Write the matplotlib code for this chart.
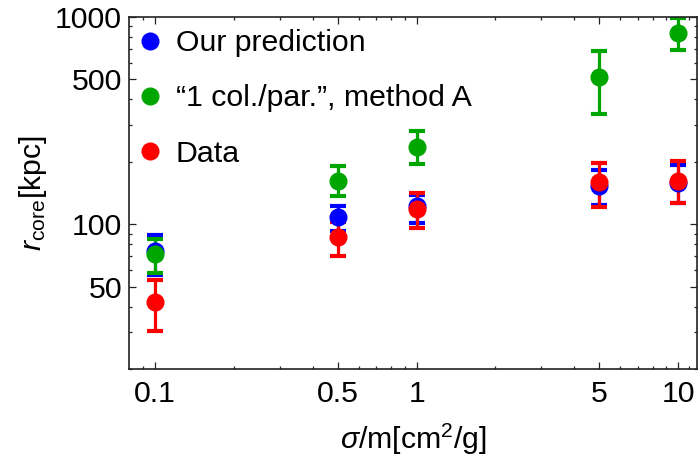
import matplotlib
matplotlib.use("Agg")
import matplotlib.pyplot as plt
from matplotlib.ticker import FixedLocator, NullFormatter

plt.rcParams["font.family"] = ["Liberation Sans", "DejaVu Sans"]
plt.rcParams["mathtext.fontset"] = "custom"
plt.rcParams["mathtext.rm"] = "Liberation Sans"
plt.rcParams["mathtext.it"] = "Liberation Sans:italic"

# %% data
sigma_m = [0.1, 0.5, 1, 5, 10]

ours = [74, 108, 122, 153, 158]
ours_lo = [57, 93, 101, 124, 126]
ours_hi = [88.5, 122, 138, 182, 193]

col_a = [72, 161, 237, 513, 840]
col_a_lo = [58, 137, 195, 340, 692]
col_a_hi = [85, 190, 282, 685, 990]

data = [42, 86.5, 118, 160, 161]
data_lo = [30.4, 70, 95.6, 121, 126]
data_hi = [53.8, 103, 141, 197, 201]

x_ticks = [0.1, 0.5, 1, 5, 10]
x_ticklabels = ["0.1", "0.5", "1", "5", "10"]
y_ticks = [50, 100, 500, 1000]
y_ticklabels = ["50", "100", "500", "1000"]

# %%
fs = 21.8
fig = plt.figure(figsize=(6.98, 4.66), dpi=100)
ax = fig.add_axes([0.1848, 0.2082, 0.8138, 0.7553])

series = [
    (ours, ours_lo, ours_hi, "#0000ff", "Our prediction"),
    (col_a, col_a_lo, col_a_hi, "#00a600", "\u201c1 col./par.\u201d, method A"),
    (data, data_lo, data_hi, "#ff0000", "Data"),
]

for y, lo, hi, c, lab in series:
    err = [[v - l for v, l in zip(y, lo)], [h - v for v, h in zip(y, hi)]]
    ax.errorbar(
        sigma_m, y, yerr=err, fmt="o", color=c, ms=12, elinewidth=2.3,
        capsize=5.5, capthick=3, label=lab,
    )

ax.set_xscale("log")
ax.set_yscale("log")
ax.set_xlim(0.0795, 11.8)
ax.set_ylim(20, 1000)

ax.xaxis.set_major_locator(FixedLocator(x_ticks))
ax.set_xticklabels(x_ticklabels)
ax.yaxis.set_major_locator(FixedLocator(y_ticks))
ax.set_yticklabels(y_ticklabels)

x_minor = [0.09, 0.2, 0.3, 0.4, 0.6, 0.7, 0.8, 0.9, 2, 3, 4, 6, 7, 8, 9, 11]
y_minor = [20, 30, 40, 60, 70, 80, 90, 200, 300, 400, 600, 700, 800, 900]
ax.xaxis.set_minor_locator(FixedLocator(x_minor))
ax.yaxis.set_minor_locator(FixedLocator(y_minor))
ax.xaxis.set_minor_formatter(NullFormatter())
ax.yaxis.set_minor_formatter(NullFormatter())

ax.tick_params(which="both", direction="in", top=True, right=True, width=0.9, color="#222222")
ax.tick_params(which="major", length=5, labelsize=fs)
ax.tick_params(axis="x", which="major", pad=8)
ax.tick_params(axis="y", which="major", pad=5)
ax.tick_params(which="minor", length=2.5)
for s in ax.spines.values():
    s.set_linewidth(1.2)
    s.set_color("#222222")

ax.set_xlabel(r"$\sigma$/m[cm$^2$/g]", fontsize=fs, labelpad=10)
ax.set_ylabel(r"$r_{\rm core}$[kpc]", fontsize=fs, labelpad=4)

handles, labels = ax.get_legend_handles_labels()
handles = [h[0] for h in handles]
ax.legend(
    handles, labels, loc="upper left", frameon=False, fontsize=fs,
    handlelength=0.6, handletextpad=0.55, labelspacing=0.9,
    borderaxespad=0.1, borderpad=0.3, markerscale=1.0,
)

fig.savefig("out.png", dpi=100)
